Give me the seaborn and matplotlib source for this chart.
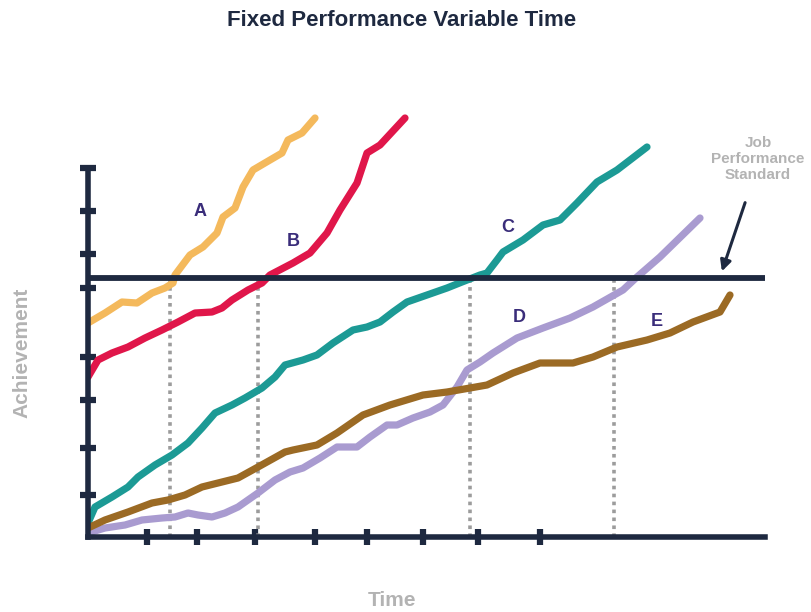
import pandas as pd
import matplotlib.pyplot as plt
import seaborn as sns

# values (time, achievement), 1 unit ~ 1 px
a_time = [0, 17, 34, 49, 64, 77, 85, 87, 102, 115, 129, 135, 147, 155, 165, 182, 194, 200, 214, 227]
a_ach = [214, 224, 235, 234, 244, 249, 254, 262, 282, 290, 304, 320, 329, 350, 367, 377, 384, 397, 404, 419]

b_time = [0, 10, 24, 40, 57, 74, 90, 107, 124, 134, 144, 160, 174, 182, 205, 222, 239, 252, 269, 279, 292, 317]
b_ach = [160, 177, 184, 190, 199, 207, 215, 224, 225, 229, 237, 247, 254, 262, 274, 284, 304, 327, 354, 384, 392, 419]

c_time = [0, 7, 24, 40, 50, 67, 84, 100, 114, 127, 144, 157, 174, 187, 197, 215, 229, 245, 265, 279,
          292, 305, 319, 339, 359, 374, 392, 399, 409, 415, 435, 455, 472, 489, 509, 529, 559]
c_ach = [14, 30, 40, 50, 60, 72, 82, 94, 109, 124, 132, 139, 149, 160, 172, 177, 182, 194, 207, 210,
         215, 225, 235, 242, 249, 255, 262, 264, 277, 285, 297, 312, 317, 334, 355, 367, 390]

d_time = [0, 17, 37, 54, 74, 87, 100, 110, 124, 137, 150, 170, 187, 202, 215, 232, 249, 269, 282,
          299, 309, 325, 342, 355, 369, 379, 392, 405, 429, 455, 482, 505, 535, 549, 572, 612]
d_ach = [4, 9, 12, 17, 19, 20, 24, 22, 20, 24, 30, 44, 57, 65, 69, 79, 90, 90, 100,
         112, 112, 119, 125, 132, 150, 167, 175, 184, 199, 209, 219, 230, 247, 260, 280, 319]

e_time = [0, 17, 40, 64, 80, 97, 114, 130, 150, 170, 197, 205, 229, 249, 275, 302, 335, 359, 382,
          399, 425, 452, 485, 505, 529, 559, 582, 605, 632, 642]
e_ach = [9, 17, 25, 34, 37, 42, 50, 54, 59, 70, 85, 87, 92, 104, 122, 132, 142, 145, 149,
         152, 164, 174, 174, 180, 190, 197, 204, 215, 225, 242]

learners = ["A", "B", "C", "D", "E"]
colors = ["#f4b95c", "#e0164a", "#1c9a95", "#a99bd0", "#9b6a24"]
label_pos = [(112, 325), (205, 295), (420, 309), (431, 219), (569, 215)]

standard = 259
meet_times = [82, 170, 382, 526]
x_ticks = [59, 109, 167, 227, 279, 335, 390, 452]
y_ticks = [42, 89, 137, 180, 249, 283, 326, 369]

rows = []
for name, t, v in zip(learners, [a_time, b_time, c_time, d_time, e_time],
                      [a_ach, b_ach, c_ach, d_ach, e_ach]):
    for i in range(len(t)):
        rows.append({"time": t[i], "achievement": v[i], "learner": name})
df = pd.DataFrame(rows)

sns.set_style("white")
plt.rcParams['font.family'] = ['Liberation Sans', 'DejaVu Sans']

navy = "#1e2940"
fig = plt.figure(figsize=(8.11, 6.12), dpi=100)
W, H = 811, 612
ax = fig.add_axes([88 / W, (H - 537) / H, (790 - 88) / W, (537 - 100) / H])
ax.set_xlim(0, 702)
ax.set_ylim(0, 437)

for name, col in zip(learners, colors):
    sub = df[df.learner == name]
    sns.lineplot(ax=ax, x=sub.time, y=sub.achievement, color=col, lw=5.2,
                 sort=False, estimator=None, solid_capstyle="round", solid_joinstyle="round",
                 zorder=2)

for name, (x, y) in zip(learners, label_pos):
    ax.text(x, y, name, color="#3a2d7a", fontsize=13, fontweight="bold",
            ha="center", va="center")

ax.vlines(meet_times, 0, standard, colors="#9c9c9c", linestyles=(0, (1, 1.2)), lw=2.6, zorder=1)
ax.hlines(standard, 0, 677, colors=navy, lw=4.2, zorder=3)

for s in ["top", "right"]:
    ax.spines[s].set_visible(False)
ax.spines["left"].set_bounds(0, 369)
ax.spines["bottom"].set_bounds(0, 677)
for s in ["left", "bottom"]:
    ax.spines[s].set_linewidth(4)
    ax.spines[s].set_color(navy)
    ax.spines[s].set_zorder(3)
ax.set_xticks(x_ticks)
ax.set_yticks(y_ticks)
ax.set_xticklabels([])
ax.set_yticklabels([])
ax.tick_params(bottom=True, left=True, direction="inout", length=12, width=4.5, color=navy)
ax.set_xlabel("")
ax.set_ylabel("")

ax.annotate("", xy=(633, 263), xytext=(658, 337),
            arrowprops=dict(arrowstyle="-|>", color=navy, lw=2.2, mutation_scale=16))

fig.text(402 / W, 1 - 21 / H, "Fixed Performance Variable Time", ha="center", va="center",
         fontsize=16, fontweight="bold", color=navy)
fig.text(22 / W, 1 - 353 / H, "Achievement", rotation=90, ha="center", va="center",
         fontsize=15, fontweight="bold", color="#b3b3b3")
fig.text(392 / W, 1 - 600 / H, "Time", ha="center", va="center",
         fontsize=15, fontweight="bold", color="#b3b3b3")
fig.text(758 / W, 1 - 159 / H, "Job\nPerformance\nStandard", ha="center", va="center",
         fontsize=11, fontweight="bold", color="#b3b3b3", linespacing=1.15)

fig.savefig("out.png", dpi=100)
